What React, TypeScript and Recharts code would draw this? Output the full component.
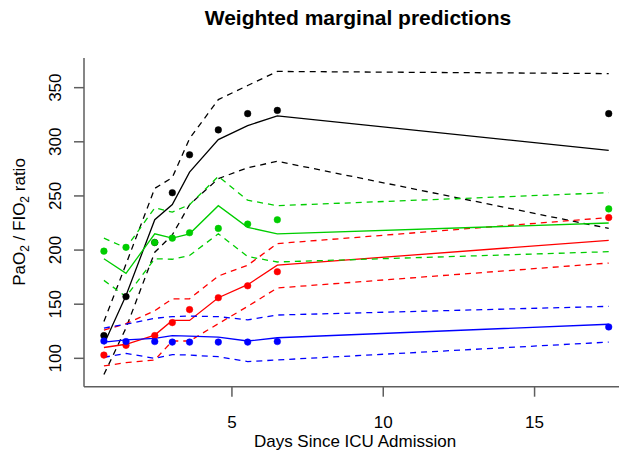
import { ComposedChart, Line, XAxis, YAxis } from 'recharts'

// days since ICU admission (shared by every group)
const days = [0.77, 1.5, 2.45, 3.03, 3.6, 4.55, 5.52, 6.5, 17.45]

// observed means
const blackObs = [121, 157, 207, 253, 288, 311, 326, 329, 326]
const redObs = [103, 112, 121, 133, 145, 156, 167, 180, 230]
const greenObs = [199, 202.5, 207, 211, 216, 220, 224, 228, 238]
const blueObs = [116, 115.5, 115.5, 115, 115, 115, 115, 115.5, 129]

// weighted marginal predictions with bounds
const blackFit = [113, 158, 228, 242, 272, 302, 315, 324, 292]
const blackHi = [134, 187, 257, 267, 303, 339, 352, 365, 363]
const blackLo = [85, 128, 198, 214, 242, 266, 276, 282, 220]

const greenFit = [192, 178.5, 215, 211, 215, 241, 221, 215, 225]
const greenHi = [211, 202, 239, 235, 242, 268, 246, 241, 253]
const greenLo = [172, 157, 192, 191.5, 195, 215, 194, 189, 198.5]

const redFit = [110, 113, 121.5, 135, 135, 156, 168, 186, 209]
const redHi = [126, 132, 144, 155, 155, 176, 186, 206, 230]
const redLo = [93, 96, 98.5, 116, 116, 132, 148, 165, 188]

const blueFit = [115, 117, 118.5, 121, 120.5, 119.5, 116, 119, 131.5]
const blueHi = [128, 131.5, 137, 138.5, 139, 138.5, 135.5, 140, 148]
const blueLo = [101, 104.5, 100, 103.5, 103, 101.5, 97, 98.5, 115]

const xTicks = [5, 10, 15]
const yTicks = [100, 150, 200, 250, 300, 350]

const BLACK = '#000000'
const RED = '#ff0000'
const GREEN = '#00cd00'
const BLUE = '#0000ff'
const AXIS = '#5e5e5e'
const FONT = '"Liberation Sans", Arial, Helvetica, sans-serif'

const data = days.map((d, i) => ({
  day: d,
  blackObs: blackObs[i],
  redObs: redObs[i],
  greenObs: greenObs[i],
  blueObs: blueObs[i],
  blackFit: blackFit[i],
  blackHi: blackHi[i],
  blackLo: blackLo[i],
  greenFit: greenFit[i],
  greenHi: greenHi[i],
  greenLo: greenLo[i],
  redFit: redFit[i],
  redHi: redHi[i],
  redLo: redLo[i],
  blueFit: blueFit[i],
  blueHi: blueHi[i],
  blueLo: blueLo[i],
}))

const XTick = (props: any) => (
  <text x={props.x} y={428} textAnchor="middle" fontSize={17} fontFamily={FONT} fill="#000">
    {props.payload.value}
  </text>
)

const YTick = (props: any) => (
  <text
    x={61.5}
    y={props.y}
    transform={`rotate(-90, 61.5, ${props.y})`}
    textAnchor="middle"
    fontSize={17}
    fontFamily={FONT}
    fill="#000"
  >
    {props.payload.value}
  </text>
)

function points(key: string, color: string) {
  return (
    <Line
      key={key}
      dataKey={key}
      stroke="none"
      isAnimationActive={false}
      activeDot={false}
      dot={{ r: 3.3, fill: color, stroke: color, strokeWidth: 0.5 }}
    />
  )
}

function curve(key: string, color: string, dashed: boolean) {
  return (
    <Line
      key={key}
      type="linear"
      dataKey={key}
      stroke={color}
      strokeWidth={1.3}
      strokeDasharray={dashed ? '6 5' : undefined}
      dot={false}
      activeDot={false}
      isAnimationActive={false}
    />
  )
}

export default function App() {
  return (
    <div style={{ position: 'absolute', left: 0, top: 0, width: 619, height: 454, overflow: 'hidden', background: '#fff' }}>
      <ComposedChart width={629} height={454} data={data} margin={{ top: 58, right: 0, bottom: 0, left: 0 }}>
        <XAxis
          dataKey="day"
          type="number"
          domain={[0.112, 18.12]}
          allowDataOverflow
          ticks={xTicks}
          tick={<XTick />}
          tickSize={10}
          height={67.3}
          axisLine={{ stroke: AXIS, strokeWidth: 1.5 }}
          tickLine={{ stroke: AXIS, strokeWidth: 1.5 }}
        />
        <YAxis
          type="number"
          domain={[73.8, 377.4]}
          allowDataOverflow
          ticks={yTicks}
          tick={<YTick />}
          tickSize={10}
          width={84}
          axisLine={{ stroke: AXIS, strokeWidth: 1.5 }}
          tickLine={{ stroke: AXIS, strokeWidth: 1.5 }}
        />

        {/* observed points */}
        {points('blackObs', BLACK)}
        {points('redObs', RED)}
        {points('greenObs', GREEN)}
        {points('blueObs', BLUE)}

        {/* fitted lines and bounds */}
        {curve('blackFit', BLACK, false)}
        {curve('blackHi', BLACK, true)}
        {curve('blackLo', BLACK, true)}
        {curve('redFit', RED, false)}
        {curve('redHi', RED, true)}
        {curve('redLo', RED, true)}
        {curve('greenFit', GREEN, false)}
        {curve('greenHi', GREEN, true)}
        {curve('greenLo', GREEN, true)}
        {curve('blueFit', BLUE, false)}
        {curve('blueHi', BLUE, true)}
        {curve('blueLo', BLUE, true)}
      </ComposedChart>

      <svg width={619} height={454} style={{ position: 'absolute', left: 0, top: 0, pointerEvents: 'none' }}>
        <text x={358} y={25} textAnchor="middle" fontSize={21} fontWeight="bold" fontFamily={FONT} fill="#000">
          Weighted marginal predictions
        </text>
        <text x={355} y={447} textAnchor="middle" fontSize={17} fontFamily={FONT} fill="#000">
          Days Since ICU Admission
        </text>
        <text
          x={25}
          y={222}
          transform="rotate(-90, 25, 222)"
          textAnchor="middle"
          fontSize={17}
          fontFamily={FONT}
          fill="#000"
        >
          PaO<tspan fontSize={12} dy={4}>2</tspan>
          <tspan dy={-4}> / FIO</tspan>
          <tspan fontSize={12} dy={4}>2</tspan>
          <tspan dy={-4}> ratio</tspan>
        </text>
      </svg>
    </div>
  )
}
